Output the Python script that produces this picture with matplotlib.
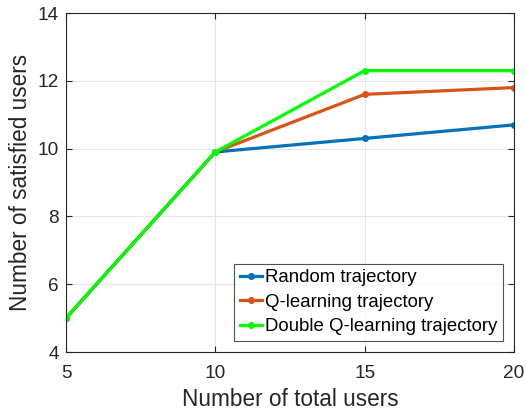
import matplotlib
matplotlib.use("Agg")
import matplotlib.pyplot as plt

x = [5, 10, 15, 20]
random_traj = [5, 9.9, 10.3, 10.7]
q_traj = [5, 9.9, 11.6, 11.8]
dq_traj = [5, 9.9, 12.3, 12.3]
labels = ["Random trajectory", "Q-learning trajectory", "Double Q-learning trajectory"]
colors = ["#0072BD", "#D95319", "#00FF00"]

plt.rcParams['font.family'] = ['Liberation Sans', 'DejaVu Sans']
fig = plt.figure(figsize=(5.26, 4.15), dpi=100)
ax = fig.add_axes([66/526, 63/415, 448/526, 339/415])

for y, c, l in zip([random_traj, q_traj, dq_traj], colors, labels):
    ax.plot(x, y, color=c, lw=2.3, marker='o', ms=4, label=l)

ax.set_xlim(5, 20)
ax.set_ylim(4, 14)
ax.set_xticks([5, 10, 15, 20])
ax.set_yticks([4, 6, 8, 10, 12, 14])
ax.grid(True, color='#e6e6e6', lw=0.8)
ax.set_axisbelow(True)
ax.tick_params(direction='in', length=4, labelsize=13.7, colors='#262626', top=True, right=True)
ax.tick_params(axis='x', pad=9)
ax.tick_params(axis='y', pad=5)
for s in ax.spines.values():
    s.set_color('#262626')
    s.set_linewidth(0.8)
ax.set_xlabel("Number of total users", fontsize=16.3, color='#262626', labelpad=5)
ax.set_ylabel("Number of satisfied users", fontsize=16.3, color='#262626', labelpad=4)
leg = ax.legend(loc='lower right', fontsize=13.4, frameon=True, fancybox=False,
                edgecolor='#262626', handlelength=1.2, handletextpad=0.15,
                borderpad=0.3, labelspacing=0.4, borderaxespad=0.6)
leg.get_frame().set_linewidth(0.8)
fig.savefig("out.png", dpi=100)
